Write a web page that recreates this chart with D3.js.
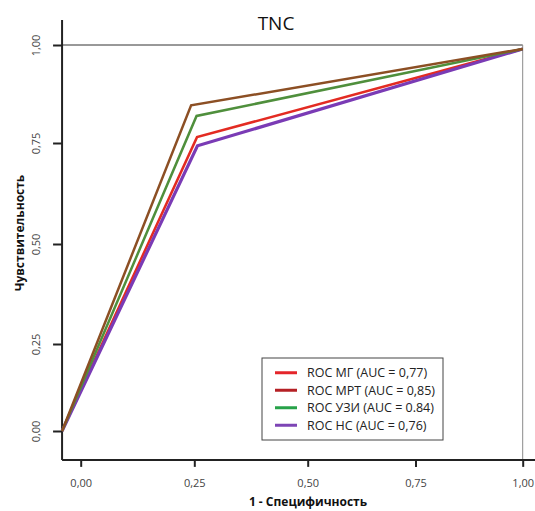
<!DOCTYPE html>
<html>
<head>
<meta charset="utf-8">
<script src="https://cdn.jsdelivr.net/npm/d3@7"></script>
<style>
  html, body { margin: 0; padding: 0; background: #fff; }
  svg { display: block; }
</style>
</head>
<body>
<svg id="chart" width="535" height="511"></svg>
<script>
// ROC curves for TNC: one series per imaging method
const seriesNames = ["ROC МГ", "ROC МРТ", "ROC УЗИ", "ROC НС"];
const aucLabels = ["0,77", "0,85", "0.84", "0,76"];
const fprMG  = [-0.041, 0.256, 1.0];
const tprMG  = [0.0,    0.765, 0.99];
const fprMRT = [-0.041, 0.243, 1.0];
const tprMRT = [0.0,    0.846, 0.99];
const fprUZI = [-0.041, 0.255, 1.0];
const tprUZI = [0.0,    0.819, 0.99];
const fprNS  = [-0.041, 0.257, 1.0];
const tprNS  = [0.0,    0.743, 0.99];
const tickValues = [0, 0.25, 0.5, 0.75, 1];
const tickLabels = ["0,00", "0,25", "0,50", "0,75", "1,00"];

const lineColors   = ["#e32b22", "#8c4f24", "#4f8f3c", "#7a3bb5"];
const legendColors = ["#e4252a", "#b52025", "#27a249", "#7d45b5"];
const lineWidths   = [2.5, 2.5, 2.5, 3.2];

const curves = [
  { fpr: fprMG,  tpr: tprMG },
  { fpr: fprMRT, tpr: tprMRT },
  { fpr: fprUZI, tpr: tprUZI },
  { fpr: fprNS,  tpr: tprNS }
];

const svg = d3.select("#chart");

// Piecewise-linear scales follow the uneven tick spacing of the plot
const x = d3.scaleLinear()
  .domain(tickValues)
  .range([80.7, 194.3, 307.7, 415.5, 522.7]);
const y = d3.scaleLinear()
  .domain(tickValues)
  .range([431, 344, 244, 143, 45]);

const xLo = -0.041, xHi = 1.03;
const yLo = -0.083, yHi = 1.064;

// Frame: thin top and right reference lines
svg.append("line")
  .attr("x1", x(xLo)).attr("x2", x(1)).attr("y1", y(1)).attr("y2", y(1))
  .attr("stroke", "#333").attr("stroke-width", 1);
svg.append("line")
  .attr("x1", x(1)).attr("x2", x(1)).attr("y1", y(1)).attr("y2", y(yLo))
  .attr("stroke", "#8a8a8a").attr("stroke-width", 1);

// Axes
const xAxis = d3.axisBottom(x)
  .tickValues(tickValues)
  .tickFormat((d, i) => tickLabels[i])
  .tickSize(7).tickPadding(12);
const gx = svg.append("g").attr("transform", `translate(0,${y(yLo)})`).call(xAxis);
gx.select(".domain").remove();
gx.selectAll(".tick line").attr("stroke", "#222").attr("stroke-width", 2);
gx.selectAll(".tick text")
  .attr("font-family", "Open Sans, sans-serif").attr("font-size", 11).attr("fill", "#444");

const yAxis = d3.axisLeft(y)
  .tickValues(tickValues)
  .tickFormat((d, i) => tickLabels[i])
  .tickSize(9).tickPadding(0);
const gy = svg.append("g").attr("transform", `translate(${x(xLo)},0)`).call(yAxis);
gy.select(".domain").remove();
gy.selectAll(".tick line").attr("stroke", "#222").attr("stroke-width", 2);
gy.selectAll(".tick text")
  .attr("font-family", "Open Sans, sans-serif").attr("font-size", 11).attr("fill", "#444")
  .attr("text-anchor", "middle")
  .attr("transform", "translate(-26,0) rotate(-90)")
  .attr("x", 0).attr("dy", "0.35em");

// Axis lines
svg.append("line")
  .attr("x1", x(xLo)).attr("x2", x(xHi)).attr("y1", y(yLo)).attr("y2", y(yLo))
  .attr("stroke", "#222").attr("stroke-width", 2);
svg.append("line")
  .attr("x1", x(xLo)).attr("x2", x(xLo)).attr("y1", y(yHi)).attr("y2", y(yLo))
  .attr("stroke", "#222").attr("stroke-width", 2);

// Curves
const line = d3.line().x(d => x(d[0])).y(d => y(d[1]));
const drawOrder = [0, 3, 2, 1];
drawOrder.forEach(i => {
  const c = curves[i];
  svg.append("path")
    .datum(c.fpr.map((v, k) => [v, c.tpr[k]]))
    .attr("d", line)
    .attr("fill", "none")
    .attr("stroke", lineColors[i])
    .attr("stroke-width", lineWidths[i])
    .attr("stroke-linejoin", "miter");
});

// Titles
svg.append("text")
  .attr("x", 276).attr("y", 30)
  .attr("text-anchor", "middle")
  .attr("font-family", "Open Sans, sans-serif").attr("font-size", 19).attr("fill", "#111")
  .text("TNC");

svg.append("text")
  .attr("x", 308).attr("y", 506)
  .attr("text-anchor", "middle")
  .attr("font-family", "Open Sans, sans-serif").attr("font-weight", "bold")
  .attr("font-size", 12).attr("fill", "#111")
  .text("1 - Специфичность");

svg.append("text")
  .attr("transform", "translate(24,233) rotate(-90)")
  .attr("text-anchor", "middle")
  .attr("font-family", "Open Sans, sans-serif").attr("font-weight", "bold")
  .attr("font-size", 12).attr("fill", "#111")
  .text("Чувствительность");

// Legend
const legend = svg.append("g").attr("transform", "translate(262,358)");
legend.append("rect")
  .attr("x", 0).attr("y", 0).attr("width", 181).attr("height", 82)
  .attr("fill", "#fff").attr("stroke", "#444").attr("stroke-width", 1);
const rowY = d3.scaleBand().domain(d3.range(seriesNames.length)).range([6, 76]);
seriesNames.forEach((name, i) => {
  const cy = rowY(i) + rowY.bandwidth() / 2;
  legend.append("line")
    .attr("x1", 13).attr("x2", 35).attr("y1", cy).attr("y2", cy)
    .attr("stroke", legendColors[i]).attr("stroke-width", 3);
  legend.append("text")
    .attr("x", 45).attr("y", cy).attr("dy", "0.35em")
    .attr("font-family", "Open Sans, sans-serif").attr("font-size", 12.5).attr("fill", "#222")
    .text(`${name} (AUC = ${aucLabels[i]})`);
});
</script>
</body>
</html>
